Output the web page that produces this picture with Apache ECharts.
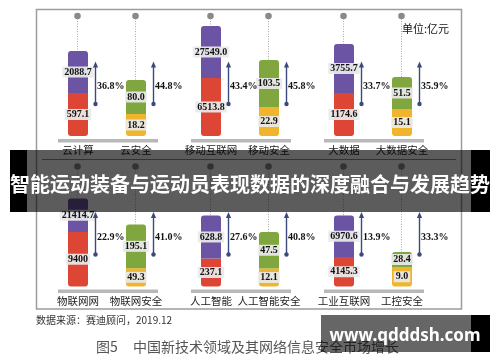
<!DOCTYPE html>
<html><head><meta charset="utf-8">
<script src="https://cdn.jsdelivr.net/npm/echarts@6/dist/echarts.min.js"></script>
<style>html,body{margin:0;padding:0;background:#fff}#c{width:500px;height:362px}</style>
</head><body><div id="c"></div>
<script>
// ---- data ----
const topCategories = ['云计算', '云安全', '移动互联网', '移动安全', '大数据', '大数据安全'];
const bottomCategories = ['物联网网', '物联网安全', '人工智能', '人工智能安全', '工业互联网', '工控安全'];

// value labels (亿元)
const topBaseLabel = ['597.1', '18.2', '6513.8', '22.9', '1174.6', '15.1'];
const topForecastLabel = ['2088.7', '80.0', '27549.0', '103.5', '3755.7', '51.5'];
const bottomBaseLabel = ['9400', '49.3', '237.1', '12.1', '4145.3', '9.0'];
const bottomForecastLabel = ['21414.7', '195.1', '628.8', '47.5', '6970.6', '28.4'];

// growth rates (%)
const topGrowth = [36.8, 44.8, 43.4, 45.8, 33.7, 35.9];
const bottomGrowth = [22.9, 41.0, 27.6, 40.8, 13.9, 33.3];

// drawn bar lengths as they appear in the (not-to-scale) picture, arbitrary units
const topBaseDrawn = [43, 22, 58, 29, 43, 27];
const topTotalDrawn = [85, 56, 110, 76, 92, 59];
const bottomBaseDrawn = [54.5, 18.3, 28, 18, 29.5, 19.5];
const bottomTotalDrawn = [88, 62, 71, 54.5, 71, 34.5];

// ---- build chart ----
const RED = '#dd4535', PURPLE = '#6b54a4', YELLOW = '#f1b52d', GREEN = '#80a640', ARROW = '#3b4a7a';
const rows = [
  {cats: topCategories, base: topBaseDrawn, total: topTotalDrawn, baseLabel: topBaseLabel, totalLabel: topForecastLabel, growth: topGrowth},
  {cats: bottomCategories, base: bottomBaseDrawn, total: bottomTotalDrawn, baseLabel: bottomBaseLabel, totalLabel: bottomForecastLabel, growth: bottomGrowth}
];
const PAIR_LEFT = [49, 182, 315];
const ROW_TOP = [16, 166.5];
const Y_MAX = 120;

function renderDecor(params, api) {
  const k = api.value(0), total = api.value(1), growth = api.value(2);
  const top = api.coord([k, Y_MAX]);
  const barTop = api.coord([k, total]);
  const cx = top[0] - 0.5;
  const yb = api.coord([k, 32])[1], yt = api.coord([k, 74.5])[1], ym = api.coord([k, 49.5])[1];
  const ax = cx + 18;
  const children = [
    {type: 'line', shape: {x1: cx, y1: top[1], x2: cx, y2: barTop[1]}, style: {stroke: '#a8a8a8', lineWidth: 1, lineDash: [1, 1.5]}},
    {type: 'circle', shape: {cx: cx, cy: top[1], r: 3.3}, style: {fill: '#8a8a8a'}},
    {type: 'line', shape: {x1: ax, y1: yb, x2: ax, y2: yt + 4}, style: {stroke: ARROW, lineWidth: 1.4}},
    {type: 'polygon', shape: {points: [[ax - 2.6, yt + 6], [ax + 2.6, yt + 6], [ax, yt]]}, style: {fill: ARROW}},
    {type: 'circle', shape: {cx: ax, cy: yb, r: 2.2}, style: {fill: ARROW}},
    {type: 'text', x: ax + 1.5, y: ym, style: {text: growth.toFixed(1) + '%', fill: '#111', font: 'bold 10px "Liberation Serif"', align: 'left', verticalAlign: 'middle', textAlign: 'left', textVerticalAlign: 'middle'}}
  ];
  if (k === 0) {
    const b0 = api.coord([0, 0]), b1 = api.coord([1, 0]);
    children.push({type: 'rect', shape: {x: b0[0] - 20, y: b0[1] + 3, width: b1[0] - b0[0] + 42, height: 3.5}, style: {fill: '#b8b8b8'}});
  }
  return {type: 'group', children: children};
}

const grids = [], xAxes = [], yAxes = [], series = [];
const valueLabel = {
  show: true, position: 'inside', color: '#111', fontFamily: 'Liberation Serif', fontWeight: 'bold', fontSize: 10,
  backgroundColor: 'rgba(233,233,233,0.93)', padding: [1, 2, 0, 2]
};
rows.forEach((row, r) => {
  for (let p = 0; p < 3; p++) {
    const g = grids.length;
    const idx = [2 * p, 2 * p + 1];
    grids.push({left: PAIR_LEFT[p], top: ROW_TOP[r], width: 116, height: 120});
    xAxes.push({
      type: 'category', gridIndex: g, data: idx.map(i => row.cats[i]),
      axisLine: {show: false}, axisTick: {show: false},
      axisLabel: {margin: 9, fontSize: 10.5, color: '#222', fontFamily: '"Noto Sans CJK SC"', interval: 0}
    });
    yAxes.push({type: 'value', gridIndex: g, min: 0, max: Y_MAX, show: false});
    series.push({
      type: 'bar', xAxisIndex: g, yAxisIndex: g, stack: 's' + g, barWidth: 20,
      data: idx.map((i, k) => ({value: row.base[i], itemStyle: {color: k === 0 ? RED : YELLOW, borderRadius: [0, 0, 3, 3]}})),
      label: Object.assign({}, valueLabel, {formatter: prm => row.baseLabel[idx[prm.dataIndex]]})
    });
    series.push({
      type: 'bar', xAxisIndex: g, yAxisIndex: g, stack: 's' + g, barWidth: 20,
      data: idx.map((i, k) => ({value: row.total[i] - row.base[i], itemStyle: {color: k === 0 ? PURPLE : GREEN, borderRadius: [3, 3, 0, 0]}})),
      label: Object.assign({}, valueLabel, {formatter: prm => row.totalLabel[idx[prm.dataIndex]]})
    });
    series.push({
      type: 'custom', xAxisIndex: g, yAxisIndex: g, clip: false, z: 3,
      data: idx.map((i, k) => [k, row.total[i], row.growth[i]]),
      renderItem: renderDecor
    });
  }
});

const chart = echarts.init(document.getElementById('c'), null, {renderer: 'canvas'});
chart.setOption({
  backgroundColor: '#ffffff',
  animation: false,
  grid: grids, xAxis: xAxes, yAxis: yAxes, series: series,
  graphic: [
    {type: 'rect', z: 0, shape: {x: 36.5, y: 9.5, width: 425, height: 299.5}, style: {fill: 'none', stroke: '#9c9c9c', lineWidth: 1.5}},
    {type: 'line', z: 0, shape: {x1: 42, y1: 159.5, x2: 456, y2: 159.5}, style: {stroke: '#8a8a8a', lineWidth: 1}},
    {type: 'text', z: 5, x: 402, y: 28.5, style: {text: '单位:亿元', fill: '#111', font: '11px "Noto Sans CJK SC"', align: 'left', verticalAlign: 'middle', textAlign: 'left', textVerticalAlign: 'middle'}},
    {type: 'text', z: 5, x: 36, y: 320.5, style: {text: '数据来源：赛迪顾问，2019.12', fill: '#333', font: '10px "Noto Sans CJK SC"', align: 'left', verticalAlign: 'middle', textAlign: 'left', textVerticalAlign: 'middle'}},
    {type: 'text', z: 5, x: 96, y: 347, style: {text: '图5', fill: '#555', font: '14px "Noto Sans CJK SC"', align: 'left', verticalAlign: 'middle', textAlign: 'left', textVerticalAlign: 'middle'}},
    {type: 'text', z: 5, x: 133, y: 347, style: {text: '中国新技术领域及其网络信息安全市场增长', fill: '#555', font: '14px "Noto Sans CJK SC"', align: 'left', verticalAlign: 'middle', textAlign: 'left', textVerticalAlign: 'middle'}},
    // banner overlay
    {type: 'rect', z: 50, shape: {x: 27, y: 150, width: 444, height: 62}, style: {fill: 'rgba(0,0,0,0.64)'}},
    {type: 'rect', z: 50, shape: {x: 10, y: 150, width: 17, height: 62}, style: {fill: '#000'}},
    {type: 'rect', z: 50, shape: {x: 471, y: 150, width: 19, height: 62}, style: {fill: '#000'}},
    {type: 'text', z: 51, x: 250, y: 184, style: {text: '智能运动装备与运动员表现数据的深度融合与发展趋势', fill: '#fff', font: 'bold 20px "Noto Sans CJK SC"', align: 'center', verticalAlign: 'middle', textAlign: 'center', textVerticalAlign: 'middle'}},
    // watermark
    {type: 'rect', z: 50, shape: {x: 321, y: 315, width: 150, height: 37}, style: {fill: 'rgba(0,0,0,0.6)'}},
    {type: 'rect', z: 50, shape: {x: 471, y: 315, width: 19, height: 37}, style: {fill: '#000'}},
    {type: 'text', z: 51, x: 405, y: 336, style: {text: 'www.qdddsh.com', fill: '#fff', font: 'bold 17px "Noto Sans"', align: 'center', verticalAlign: 'middle', textAlign: 'center', textVerticalAlign: 'middle'}}
  ]
});
</script></body></html>
